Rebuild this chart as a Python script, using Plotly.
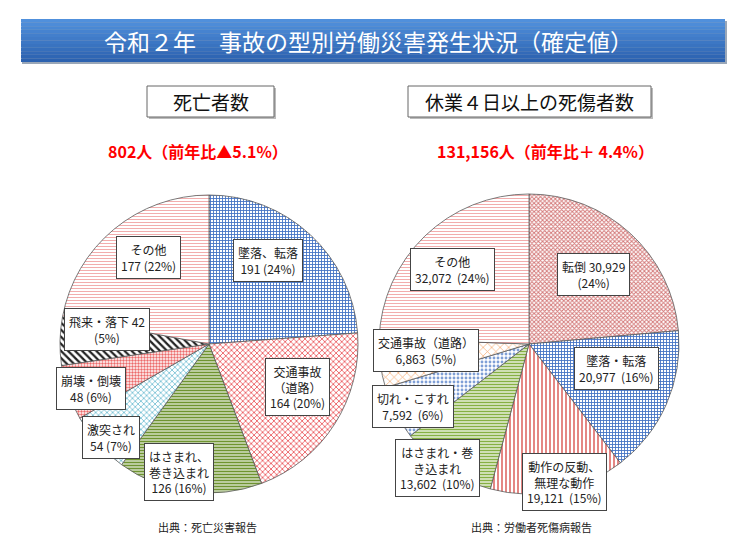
"""令和2年 事故の型別労働災害発生状況 – two patterned pie charts."""

import plotly.graph_objects as go

# page body has an 8px margin, so the figure is drawn 16px smaller and offset
OFF = 8
W, H = 745 - 2 * OFF, 542 - 2 * OFF
FONT = "Noto Sans CJK JP, Noto Sans, sans-serif"
EDGE = "#5a5a5a"

# 死亡者数
death_names = ["墜落、転落", "交通事故<br>（道路）", "はさまれ、<br>巻き込まれ", "激突され",
               "崩壊・倒壊", "飛来・落下", "その他"]
death_values = [191, 164, 126, 54, 48, 42, 177]
death_label_fmt = ["{n}<br>{v} ({p}%)", "{n}<br>{v} ({p}%)", "{n}<br>{v} ({p}%)", "{n}<br>{v} ({p}%)",
                   "{n}<br>{v} ({p}%)", "{n} {v}<br>({p}%)", "{n}<br>{v} ({p}%)"]
death_shapes = ["+", "x", "-", "x", ".", "\\", "-"]
death_colors = ["#4472c4", "#e8474c", "#6f9430", "#4bacc6", "#ec6a6a", "#222222", "#f0a4a4"]
death_sizes = [3, 4, 3, 4, 3, 5, 3]
death_solidity = [0.5, 0.35, 0.65, 0.3, 0.5, 0.45, 0.3]

# 休業4日以上の死傷者数
injury_names = ["転倒", "墜落・転落", "動作の反動、<br>無理な動作", "はさまれ・巻<br>き込まれ",
                "切れ・こすれ", "交通事故（道路）", "その他"]
injury_values = [30929, 20977, 19121, 13602, 7592, 6863, 32072]
injury_label_fmt = ["{n} {v}<br>({p}%)", "{n}<br>{v}  ({p}%)", "{n}<br>{v}  ({p}%)", "{n}<br>{v}  ({p}%)",
                    "{n}<br>{v}  ({p}%)", "{n}<br>{v}  ({p}%)", "{n}<br>{v}  ({p}%)"]
injury_shapes = ["x", "+", "|", "-", ".", "x", "-"]
injury_colors = ["#d47a7a", "#4472c4", "#d9534f", "#86b043", "#7f9fd6", "#f4a060", "#f0a4a4"]
injury_sizes = [3, 3, 4, 3, 4, 6, 3]
injury_solidity = [0.55, 0.5, 0.35, 0.6, 0.4, 0.2, 0.3]

# label box centres in pixels (layout only)
death_label_pos = [(268, 260), (297, 387), (179, 472), (111, 437), (91, 388), (107, 329), (148, 258)]
injury_label_pos = [(593, 274), (616, 368), (564, 482), (437, 468), (413, 406), (426, 350), (453, 270)]


def px(x, y):
    return (x - OFF) / W, 1 - (y - OFF) / H


def rect(fig, x0, y0, x1, y1, **kw):
    ax0, ay1 = px(x0, y0)
    ax1, ay0 = px(x1, y1)
    fig.add_shape(type="rect", xref="paper", yref="paper", x0=ax0, x1=ax1, y0=ay0, y1=ay1, **kw)


def text(fig, x, y, s, size, color, **kw):
    ax, ay = px(x, y)
    fig.add_annotation(x=ax, y=ay, xref="paper", yref="paper", text=s, showarrow=False,
                       xanchor="center", yanchor="middle",
                       font={"size": size, "color": color, "family": FONT}, **kw)


def pie(values, shapes, colors, sizes, solidity, x0, x1, y0, y1):
    ax0, ay1 = px(x0, y0)
    ax1, ay0 = px(x1, y1)
    return go.Pie(
        values=values, sort=False, direction="clockwise", rotation=0,
        textinfo="none", hoverinfo="skip", showlegend=False,
        domain={"x": [ax0, ax1], "y": [ay0, ay1]},
        marker={
            "colors": ["white"] * len(values),
            "line": {"color": EDGE, "width": 0.8},
            "pattern": {"shape": shapes, "fgcolor": colors, "bgcolor": "white",
                        "size": sizes, "solidity": solidity, "fillmode": "replace"},
        },
    )


def label_boxes(fig, names, values, fmts, positions):
    total = sum(values)
    for name, value, fmt, (x, y) in zip(names, values, fmts, positions):
        pct = round(value / total * 100)
        s = fmt.format(n=name, v=f"{value:,}", p=pct)
        text(fig, x, y, s, 12, "#222222", bgcolor="white", bordercolor="#444444",
             borderwidth=1, borderpad=4, align="center")


fig = go.Figure()
fig.add_trace(pie(death_values, death_shapes, death_colors, death_sizes, death_solidity,
                  60, 358, 195, 493))
fig.add_trace(pie(injury_values, injury_shapes, injury_colors, injury_sizes, injury_solidity,
                  379, 679, 194, 494))

# title bar with a rough vertical gradient
rect(fig, 22, 21, 727, 64, fillcolor="#9aa7b8", line_width=0, layer="below")
steps = 12
top, bottom = (80, 144, 220), (44, 98, 176)
for i in range(steps):
    t = i / (steps - 1)
    c = tuple(round(a + (b - a) * t) for a, b in zip(top, bottom))
    ya = 19 + (62 - 19) * i / steps
    yb = 19 + (62 - 19) * (i + 1) / steps
    rect(fig, 21, ya, 725, yb, fillcolor=f"rgb{c}", line_width=0, layer="below")
text(fig, 368, 41, "令和２年　事故の型別労働災害発生状況（確定値）", 23, "white")

# subtitle boxes
for (x0, x1), s in [((147, 274), "死亡者数"), ((408, 651), "休業４日以上の死傷者数")]:
    rect(fig, x0 + 2, 88, x1 + 2, 119, fillcolor="#bbbbbb", line_width=0)
    rect(fig, x0, 86, x1, 117, fillcolor="white", line={"color": "#666666", "width": 1})
    text(fig, (x0 + x1) / 2, 102, s, 19, "#111111")

# totals in red
text(fig, 198, 151, "<b>802人（前年比▲5.1%）</b>", 16, "#ff0000")
text(fig, 545, 151, "<b>131,156人（前年比＋ 4.4%）</b>", 16, "#ff0000")

label_boxes(fig, death_names, death_values, death_label_fmt, death_label_pos)
label_boxes(fig, injury_names, injury_values, injury_label_fmt, injury_label_pos)

# sources
text(fig, 207, 527, "出典：死亡災害報告", 11, "#222222")
text(fig, 531, 527, "出典：労働者死傷病報告", 11, "#222222")

fig.update_layout(
    width=W, height=H, margin={"l": 0, "r": 0, "t": 0, "b": 0},
    paper_bgcolor="white", plot_bgcolor="white", font={"family": FONT},
)
fig.write_html("out.html")
